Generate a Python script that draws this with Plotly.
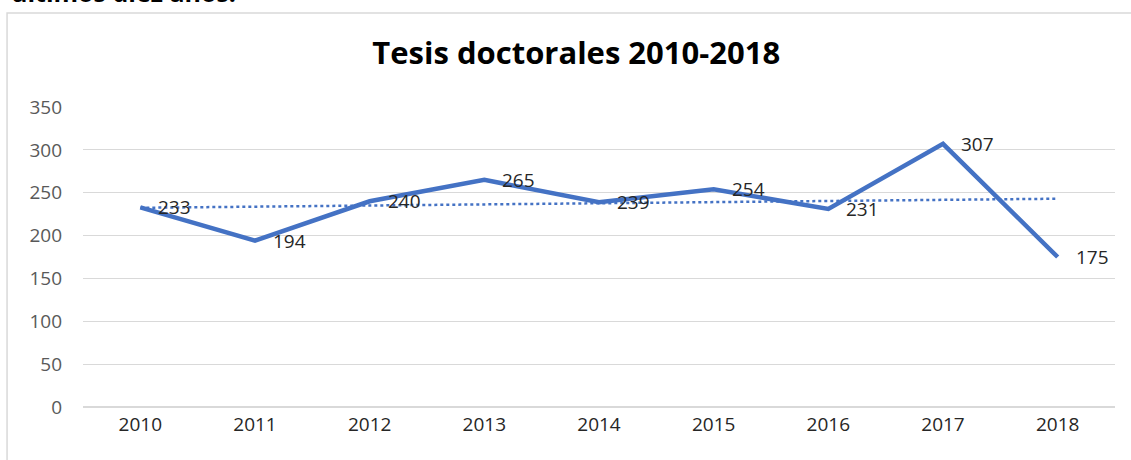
import plotly.graph_objects as go

# Data
years = ["2010", "2011", "2012", "2013", "2014", "2015", "2016", "2017", "2018"]
tesis = [233, 194, 240, 265, 239, 254, 231, 307, 175]
# linear trend line (start / end)
trend_years = ["2010", "2018"]
trend_vals = [232.4, 243.0]

blue = "#4472C4"
font = "Open Sans"

fig = go.Figure()

fig.add_trace(go.Scatter(x=trend_years, y=trend_vals, mode="lines",
                         line=dict(color=blue, width=2.5, dash="dot"),
                         hoverinfo="skip"))
fig.add_trace(go.Scatter(x=years, y=tesis, mode="lines",
                         line=dict(color=blue, width=4.5),
                         name="Tesis"))

# data labels to the right of each point (category index as x)
for i, v in enumerate(tesis):
    fig.add_annotation(x=i, y=v, text=str(v), showarrow=False,
                       xanchor="left", yanchor="middle", xshift=16,
                       font=dict(family=font, size=19, color="#262626"))

# cut-off paragraph text above the chart
fig.add_annotation(xref="paper", yref="paper", x=-0.072, y=1.382,
                   text="<b>últimos diez años.</b>", showarrow=False,
                   xanchor="left", yanchor="middle",
                   font=dict(family=font, size=25, color="#000000"))

# chart frame
fig.add_shape(type="rect", xref="paper", yref="paper",
              x0=-0.0736, x1=1.08, y0=-0.25, y1=1.313,
              line=dict(color="#d9d9d9", width=1.5), layer="below")

fig.update_layout(
    width=1131, height=460,
    margin=dict(l=83, r=16, t=107, b=53),
    paper_bgcolor="white", plot_bgcolor="white",
    showlegend=False,
    title=dict(text="<b>Tesis doctorales 2010-2018</b>", x=0.5095, xanchor="center",
               y=0.885, yanchor="middle",
               font=dict(family=font, size=31, color="#000000")),
    xaxis=dict(type="category", categoryorder="array", categoryarray=years,
               range=[-0.5, 8.5], showgrid=False, automargin=False,
               showline=False, ticks="", zeroline=False,
               tickfont=dict(family=font, size=19, color="#262626")),
    yaxis=dict(range=[0, 350], dtick=50, showgrid=True, gridcolor="#d9d9d9",
               gridwidth=1, zeroline=True, zerolinecolor="#d9d9d9",
               showline=False, ticks="", ticklen=0, automargin=False,
               tickfont=dict(family=font, size=19, color="#595959")),
)
fig.update_yaxes(ticklabelstandoff=20)
fig.update_xaxes(ticklabelstandoff=4)

# drop the default page margin so the figure sits at the window's corner
fig.write_html("out.html", config={"displayModeBar": False},
               post_script="document.body.style.margin='0';")
